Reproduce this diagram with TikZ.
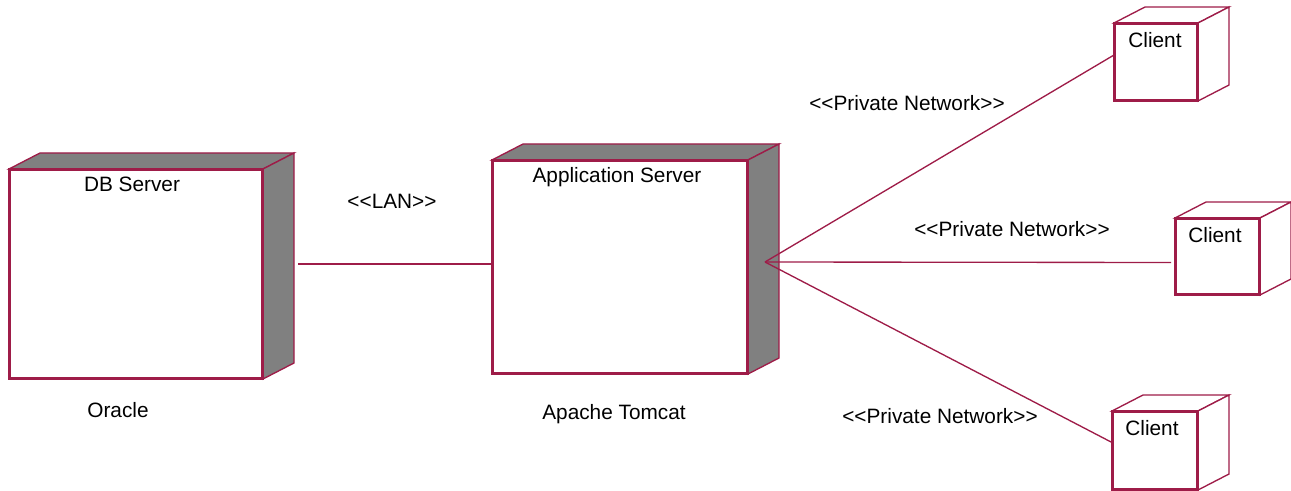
\documentclass[tikz,border=0pt]{standalone}
\usepackage{fontspec}
\setmainfont{Liberation Sans}[Ligatures=TeXOff]
\usetikzlibrary{calc}

\definecolor{umlred}{RGB}{158,28,72}
\definecolor{umlgray}{RGB}{128,128,128}

\tikzset{
  umlnode/.style={draw=umlred, line width=1.5pt, fill=white, inner sep=0pt},
  umlline/.style={draw=umlred, line width=1pt},
  umltext/.style={inner sep=0.75pt, font=\fontsize{15.6}{18}\selectfont},
}

% top and right faces of a node box
\newcommand{\boxdepth}[2]{%
  \filldraw[umlline, fill=#2] (#1.north west) -- ++(31,-16) -- ($(#1.north east)+(31,-16)$) -- (#1.north east) -- cycle;
  \filldraw[umlline, fill=#2] (#1.north east) -- ++(31,-16) -- ($(#1.south east)+(31,-16)$) -- (#1.south east) -- cycle;
}

\begin{document}
\begin{tikzpicture}[x=0.75pt,y=0.75pt,yscale=-1,xscale=1]
\useasboundingbox (0,0) rectangle (1291,491);

%Nodes
\node [umlnode, minimum width=189pt, minimum height=156pt] (db) at (136,274) {};
\node [umlnode, minimum width=190.5pt, minimum height=159pt] (app) at (620,267) {};
\node [umlnode, minimum width=61.5pt, minimum height=57pt] (cl1) at (1156,62) {};
\node [umlnode, minimum width=62.25pt, minimum height=56.25pt] (cl2) at (1217.5,256.5) {};
\node [umlnode, minimum width=63pt, minimum height=57.75pt] (cl3) at (1155,450.5) {};

%Depth
\boxdepth{db}{umlgray}
\boxdepth{app}{umlgray}
\boxdepth{cl1}{white}
\boxdepth{cl2}{white}
\boxdepth{cl3}{white}
\draw [umlnode, fill=none] (db.south west) rectangle (db.north east);
\draw [umlnode, fill=none] (app.south west) rectangle (app.north east);
\draw [umlnode, fill=none] (cl1.south west) rectangle (cl1.north east);
\draw [umlnode, fill=none] (cl2.south west) rectangle (cl2.north east);
\draw [umlnode, fill=none] (cl3.south west) rectangle (cl3.north east);

%Connectors
\coordinate (dbside) at ($(db.east)+(35,-10)$);
\coordinate (hub) at (765,262);
\draw [umlline] (dbside) -- (dbside -| app.west);
\draw [umlline] (hub) -- ($(cl1.west)+(0,-7)$);
\draw [umlline] (hub) -- ($(cl2.west)+(-4,6)$);
\draw [umlline] (hub) -- ($(cl3.west)+(0,-8)$);

% Text Node
\node [umltext] (dbname) at (132,184) {DB Server};
\node [umltext] (appname) at (617,177) {Application Server};
\node [umltext] (cl1name) at (1155,40) {Client};
\node [umltext] (cl2name) at (1215,235) {Client};
\node [umltext] (cl3name) at (1152,428) {Client};
\node [umltext] (oracle) at (118,410) {Oracle};
\node [umltext] (tomcat) at (614,414) {Apache Tomcat};
\node [umltext] (lan) at (392,201) {<<LAN>>};
\node [umltext] (pn1) at (907,103) {<<Private Network>>};
\node [umltext] (pn2) at (1012,229) {<<Private Network>>};
\node [umltext] (pn3) at (940,416) {<<Private Network>>};

\end{tikzpicture}
\end{document}
